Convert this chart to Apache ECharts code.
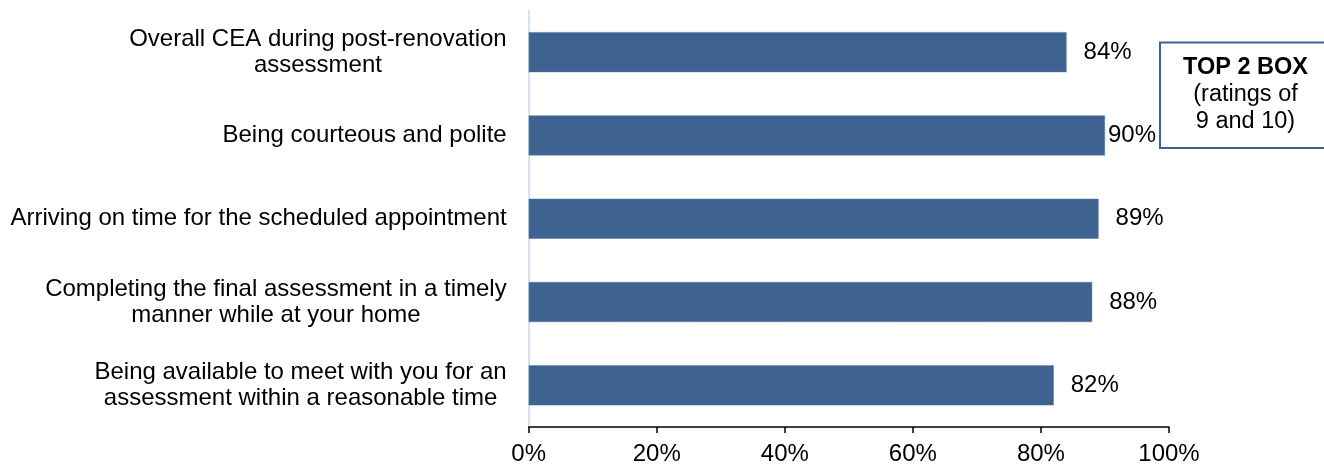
<!DOCTYPE html>
<html>
<head>
<meta charset="utf-8">
<script src="https://cdn.jsdelivr.net/npm/echarts@6/dist/echarts.min.js"></script>
<style>
html,body{margin:0;padding:0;background:#fff;}
#chart{width:1324px;height:466px;}
</style>
</head>
<body>
<div id="chart"></div>
<script>
const categories = [
  'Overall CEA during post-renovation\nassessment',
  'Being courteous and polite',
  'Arriving on time for the scheduled appointment',
  'Completing the final assessment in a timely\nmanner while at your home',
  'Being available to meet with you for an\nassessment within a reasonable time'
];
const values = [84, 90, 89, 88, 82];
const xTickValues = [0, 20, 40, 60, 80, 100];
const boxLines = ['TOP 2 BOX', '(ratings of', '9 and 10)'];

const FONT = '"Liberation Sans", Arial, sans-serif';
const FS = 24;
const BAR = '#3f6390';

const chart = echarts.init(document.getElementById('chart'), null, {renderer: 'canvas'});

const seriesData = values.map((v, i) => {
  const item = {value: v};
  if (v === 90) item.label = {distance: 3};
  return item;
});

chart.setOption({
  animation: false,
  backgroundColor: '#fff',
  grid: {left: 528.7, right: 155, top: 10.5, height: 418, containLabel: false},
  xAxis: {
    type: 'value',
    min: xTickValues[0],
    max: xTickValues[xTickValues.length - 1],
    interval: xTickValues[1] - xTickValues[0],
    splitLine: {show: false},
    axisLine: {show: true, lineStyle: {color: '#000', width: 1.5}},
    axisTick: {show: true, length: 6, inside: false, lineStyle: {color: '#000', width: 1.5}},
    axisLabel: {
      formatter: '{value}%', color: '#000', fontSize: FS, fontFamily: FONT, margin: 15
    }
  },
  yAxis: {
    type: 'category',
    data: categories,
    inverse: true,
    axisLine: {show: true, onZero: false, lineStyle: {color: '#c6d9f1', width: 1.5}},
    axisTick: {show: false},
    splitLine: {show: false},
    axisLabel: {
      margin: 22,
      align: 'right',
      formatter: function (v) {
        return v.split('\n').map(s => '{c|' + s + '}').join('\n');
      },
      rich: {
        c: {align: 'center', color: '#000', fontSize: FS, fontFamily: FONT, lineHeight: 26}
      }
    }
  },
  series: [{
    type: 'bar',
    data: seriesData,
    barWidth: 40,
    itemStyle: {color: BAR, borderColor: '#5579a3', borderWidth: 0.5},
    label: {
      show: true,
      position: 'right',
      distance: 17,
      formatter: '{c}%',
      color: '#000',
      fontSize: FS,
      fontFamily: FONT
    }
  }],
  graphic: [
    {
      type: 'rect',
      shape: {x: 1160, y: 42.5, width: 172, height: 105.5},
      style: {fill: '#fff', stroke: '#3f6390', lineWidth: 2},
      z: 10
    },
    {
      type: 'text',
      x: 1245.5,
      y: 95,
      z: 11,
      style: {
        text: '{b|' + boxLines[0] + '}\n{n|' + boxLines[1] + '}\n{n|' + boxLines[2] + '}',
        align: 'center',
        verticalAlign: 'middle',
        rich: {
          b: {fontWeight: 'bold', fontSize: 23.5, fontFamily: FONT, fill: '#000', lineHeight: 27, align: 'center'},
          n: {fontSize: 23.5, fontFamily: FONT, fill: '#000', lineHeight: 27, align: 'center'}
        }
      }
    }
  ]
});
</script>
</body>
</html>
